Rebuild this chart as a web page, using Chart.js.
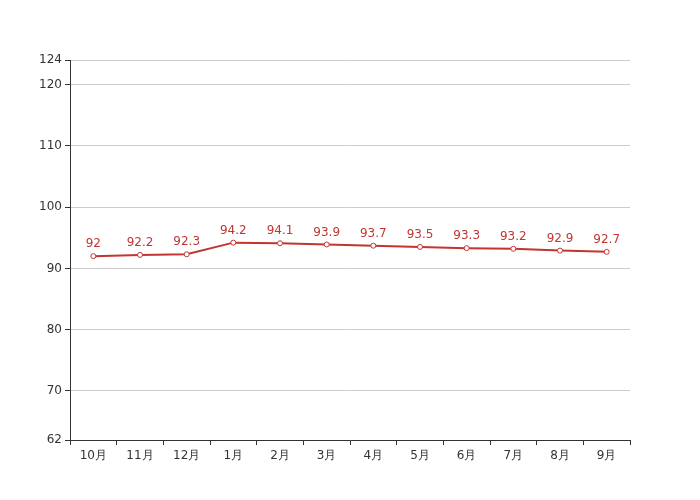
<!DOCTYPE html>
<html>
<head>
<meta charset="utf-8">
<script src="https://cdn.jsdelivr.net/npm/chart.js@4.4.0/dist/chart.umd.min.js"></script>
<style>
  html, body { margin: 0; padding: 0; background: #fff; }
  #wrap { width: 700px; height: 500px; }
</style>
</head>
<body>
<div id="wrap"><canvas id="lineChart" width="700" height="500"></canvas></div>
<script>
// categories and values
const months = ['10月', '11月', '12月', '1月', '2月', '3月', '4月', '5月', '6月', '7月', '8月', '9月'];
const values = [92, 92.2, 92.3, 94.2, 94.1, 93.9, 93.7, 93.5, 93.3, 93.2, 92.9, 92.7];
const yTicks = [62, 70, 80, 90, 100, 110, 120, 124];

const red = '#c23531';
Chart.defaults.font.family = 'DejaVu Sans';
Chart.defaults.font.size = 12;
Chart.defaults.color = '#333';

// draw the value above each point
const valueLabels = {
    id: 'valueLabels',
    afterDatasetsDraw(chart) {
        const ctx = chart.ctx;
        const meta = chart.getDatasetMeta(0);
        ctx.save();
        ctx.fillStyle = red;
        ctx.font = '12px DejaVu Sans';
        ctx.textAlign = 'center';
        ctx.textBaseline = 'bottom';
        meta.data.forEach((pt, i) => {
            ctx.fillText(String(values[i]), pt.x, pt.y - 6);
        });
        ctx.restore();
    }
};

const ctx = document.getElementById('lineChart').getContext('2d');
let chart = new Chart(ctx, {
    type: 'line',
    data: {
        labels: months,
        datasets: [{
            data: values,
            borderColor: red,
            borderWidth: 2,
            backgroundColor: '#fff',
            pointBackgroundColor: '#fff',
            pointBorderColor: red,
            pointBorderWidth: 1,
            pointRadius: 2.5,
            tension: 0
        }]
    },
    options: {
        responsive: false,
        animation: false,
        layout: { padding: { left: 0, right: 70, top: 60, bottom: 0 } },
        plugins: { legend: { display: false }, tooltip: { enabled: false } },
        scales: {
            x: {
                offset: true,
                grid: { offset: true, drawOnChartArea: false, drawTicks: true, tickLength: 5, tickColor: '#333' },
                border: { color: '#333', width: 1 },
                ticks: { padding: 4, color: '#333', maxRotation: 0 },
                afterFit: s => { s.height = 60; }
            },
            y: {
                min: 62,
                max: 124,
                afterBuildTicks: s => { s.ticks = yTicks.map(v => ({ value: v })); },
                grid: { color: '#ccc', tickLength: 5, tickColor: '#333' },
                border: { color: '#333', width: 1 },
                ticks: { padding: 3, color: '#333' },
                afterFit: s => { s.width = 70; }
            }
        }
    },
    plugins: [valueLabels]
});
</script>
</body>
</html>
